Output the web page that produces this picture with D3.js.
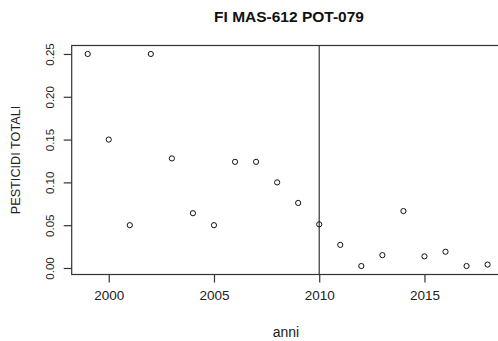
<!DOCTYPE html>
<html><head><meta charset="utf-8">
<script src="https://cdn.jsdelivr.net/npm/d3@7"></script>
<style>body{margin:0;background:#fff}svg{display:block}</style>
</head><body>
<svg id="c" width="498" height="341"></svg>
<script>
const years = [1999,2000,2001,2002,2003,2004,2005,2006,2007,2008,2009,2010,2011,2012,2013,2014,2015,2016,2017,2018];
const values = [0.25,0.15,0.05,0.25,0.128,0.064,0.05,0.124,0.124,0.1,0.076,0.051,0.027,0.0023,0.015,0.0665,0.0136,0.019,0.0023,0.004];
const xTicks = [2000,2005,2010,2015];
const yTicks = [0,0.05,0.10,0.15,0.20,0.25];
const vLineYear = [2010];
const title = "FI MAS-612 POT-079";
const xLabel = "anni";
const yLabel = "PESTICIDI TOTALI";

const svg = d3.select("#c");
const L = 71.7, R = 503.6, T = 45.5, B = 274.5;
const x = d3.scaleLinear().domain([1998.24, 2018.76]).range([L, R]);
const y = d3.scaleLinear().domain([-0.0076, 0.2599]).range([B, T]);
const ink = "#333";
const font = "'Liberation Sans', Arial, sans-serif";

// box
svg.append("rect").attr("x", L).attr("y", T).attr("width", R - L).attr("height", B - T)
  .attr("fill", "none").attr("stroke", ink).attr("stroke-width", 1.2);

// axes
const xa = svg.append("g").attr("transform", `translate(0,${B})`)
  .call(d3.axisBottom(x).tickValues(xTicks).tickFormat(d3.format("d")).tickSize(8).tickPadding(8));
const ya = svg.append("g").attr("transform", `translate(${L},0)`)
  .call(d3.axisLeft(y).tickValues(yTicks).tickFormat(d3.format(".2f")).tickSize(8));
[xa, ya].forEach(a => {
  a.select(".domain").remove();
  a.selectAll("line").attr("stroke", ink).attr("stroke-width", 1.2);
  a.selectAll("text").attr("fill", "#222").style("font-family", font);
});
xa.selectAll("text").style("font-size", "13.5px");
ya.selectAll(".tick text").style("font-size", "11.5px")
  .attr("transform", "translate(-22,0) rotate(-90)")
  .attr("x", 0).attr("y", 0).attr("dy", "0.35em").attr("text-anchor", "middle");

// vertical line
svg.selectAll(".vline").data(vLineYear).enter().append("line")
  .attr("x1", d => x(d)).attr("x2", d => x(d)).attr("y1", T).attr("y2", B)
  .attr("stroke", ink).attr("stroke-width", 1.2);

// points
svg.selectAll(".pt").data(years.map((yr, i) => [yr, values[i]])).enter().append("circle")
  .attr("cx", d => x(d[0])).attr("cy", d => y(d[1])).attr("r", 2.6)
  .attr("fill", "none").attr("stroke", "#111").attr("stroke-width", 1);

// title and labels
svg.append("text").attr("x", 289).attr("y", 22).attr("text-anchor", "middle")
  .style("font-family", font).style("font-size", "15.5px").style("font-weight", "bold").attr("fill", "#111").text(title);
svg.append("text").attr("x", 286).attr("y", 336.5).attr("text-anchor", "middle")
  .style("font-family", font).style("font-size", "14px").attr("fill", "#222").text(xLabel);
svg.append("text").attr("transform", `translate(19.5,160) rotate(-90)`).attr("text-anchor", "middle")
  .style("font-family", font).style("font-size", "12.7px").attr("fill", "#222").text(yLabel);
</script>
</body></html>
